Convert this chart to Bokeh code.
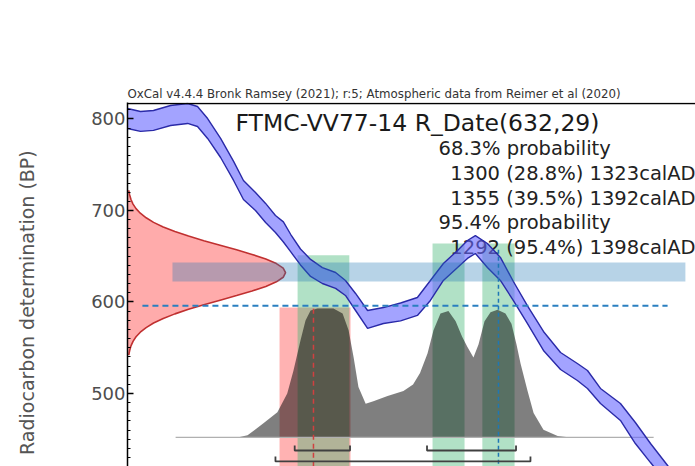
import math
from bokeh.plotting import figure
from bokeh.models import Range1d, Span, FixedTicker, ColumnDataSource
from bokeh.core.properties import value
from bokeh.embed import file_html
from bokeh.resources import INLINE

# ---------------- data ----------------
header = "OxCal v4.4.4 Bronk Ramsey (2021); r:5; Atmospheric data from Reimer et al (2020)"
sample_title = "FTMC-VV77-14 R_Date(632,29)"
summary_lines = ["68.3% probability",
                 "1300 (28.8%) 1323calAD",
                 "1355 (39.5%) 1392calAD",
                 "95.4% probability",
                 "1292 (95.4%) 1398calAD"]
summary_indent = [0, 1, 1, 0, 1]
y_label = "Radiocarbon determination (BP)"
y_ticks = [500, 600, 700, 800]

# calibration curve: calendar year (AD), mean BP, half-width (BP)
cal_year = [1230.5, 1235.9, 1241.3, 1248.4, 1255.5, 1259.6, 1263.8, 1269.2, 1274.6, 1278.7,
            1283.7, 1287.9, 1292.0, 1295.3, 1298.3, 1302.4, 1306.6, 1311.5, 1317.0, 1321.1,
            1325.3, 1330.3, 1336.9, 1344.0, 1351.0, 1356.4, 1361.8, 1367.7, 1371.8, 1375.1,
            1380.1, 1385.5, 1390.9, 1396.7, 1403.4, 1410.5, 1417.5, 1421.7, 1427.1, 1435.4,
            1441.6, 1447.9, 1455.0, 1462.4, 1468.0]
cal_bp = [800.5, 797.3, 798.4, 803.8, 806.0, 802.7, 789.6, 768.3, 743.2, 722.4,
          709.8, 697.3, 685.2, 676.5, 664.5, 649.2, 637.2, 628.9, 623.5, 615.3,
          600.0, 580.9, 585.2, 589.1, 595.1, 612.6, 632.8, 647.0, 657.4, 662.8,
          650.8, 636.1, 612.0, 586.3, 557.4, 535.5, 523.5, 515.3, 497.3, 479.8,
          456.8, 434.9, 411.5, 384.2, 375.0]
cal_err = [10.9, 10.9, 10.9, 10.9, 10.9, 10.9, 10.9, 10.4, 10.4, 10.4,
           9.8, 10.4, 9.3, 11.0, 9.5, 8.7, 9.3, 8.7, 8.7, 8.2,
           9.3, 9.8, 8.7, 9.8, 9.8, 10.9, 9.3, 9.3, 9.8, 9.8,
           13.1, 12.6, 10.4, 9.8, 10.4, 9.3, 9.3, 9.8, 8.2, 9.3,
           11.5, 10.4, 9.8, 9.8, 9.8]

# radiocarbon measurement distribution (BP, relative probability)
rdate_bp = [542, 547, 552, 557, 562, 567, 572, 577, 582, 587, 592, 597, 602, 607, 612, 617, 622,
            627, 632, 637, 642, 647, 652, 657, 662, 667, 672, 677, 682, 687, 692, 697, 702, 707,
            712, 717, 722]
rdate_p = [0.008, 0.0136, 0.022, 0.035, 0.054, 0.081, 0.118, 0.165, 0.226, 0.300, 0.386, 0.483,
           0.586, 0.690, 0.788, 0.875, 0.942, 0.985, 1.0, 0.985, 0.942, 0.875, 0.788, 0.690,
           0.586, 0.483, 0.386, 0.300, 0.226, 0.165, 0.118, 0.081, 0.054, 0.035, 0.022, 0.0136,
           0.008]

# calibrated distribution (calendar year AD, relative probability)
hist_year = [1250.5, 1276.2, 1280.4, 1287.0, 1292.8, 1296.9, 1299.5, 1302.4, 1304.5, 1306.6,
             1309.5, 1316.1, 1319.9, 1322.4, 1324.5, 1326.5, 1329.5, 1332.7, 1338.6, 1345.2,
             1349.2, 1352.1, 1355.2, 1357.7, 1360.6, 1363.9, 1366.9, 1369.6, 1371.8, 1374.3,
             1376.4, 1378.9, 1381.4, 1384.3, 1387.6, 1390.1, 1392.2, 1393.9, 1396.8, 1399.3,
             1403.4, 1409.3, 1414.6, 1449.2]
hist_p = [0.0, 0.0, 0.016, 0.109, 0.194, 0.341, 0.519, 0.752, 0.907, 0.984,
          1.0, 1.0, 0.96, 0.83, 0.62, 0.39, 0.26, 0.28, 0.32, 0.36,
          0.41, 0.50, 0.65, 0.83, 0.96, 0.98, 0.90, 0.78, 0.70, 0.62,
          0.72, 0.90, 0.97, 0.99, 0.96, 0.88, 0.72, 0.57, 0.36, 0.19,
          0.06, 0.01, 0.0, 0.0]

# highlighted bands
red_band_left = [1293.7]
red_band_right = [1323.2]
red_band_top = [594.0]
green_band_left = [1301.2, 1357.3, 1378.0]
green_band_right = [1322.7, 1370.6, 1391.4]
green_band_top = [651.0, 664.0, 664.0]
meas_band_bp = [622.4, 643.2]
meas_band_years = [1249.2, 1462.4]
ref_line_bp = 596.0
ref_line_years = [1236.7, 1455.0]
red_marker_year = 1307.8
red_marker_top = 594.0
blue_marker_year = 1384.7
blue_marker_top = 658.0

# probability ranges (brackets)
ranges_683 = [(1300, 1323), (1355, 1392)]
ranges_954 = [(1292, 1398)]

# ---------------- figure ----------------
X0, X1 = 1230.5, 1466.6
Y0, Y1 = 420.2, 818.0
p = figure(width=695, height=466, output_backend="svg", toolbar_location=None,
           x_range=Range1d(X0, X1), y_range=Range1d(Y0, Y1),
           min_border_left=127, min_border_right=0, min_border_top=102, min_border_bottom=0)
p.xaxis.visible = False
p.xgrid.visible = False
p.ygrid.visible = False
p.outline_line_color = None
p.background_fill_color = "white"
p.border_fill_color = "white"

p.title.text = header
p.title.text_font = "DejaVu Sans"
p.title.text_font_size = "11.8px"
p.title.text_font_style = "normal"
p.title.text_color = "#333333"
p.title.align = "left"
p.title.standoff = 3
p.title.offset = 0

yax = p.yaxis[0]
yax.ticker = FixedTicker(ticks=y_ticks, minor_ticks=list(range(420, 820, 10)))
yax.major_label_text_font = "DejaVu Sans"
yax.major_label_text_font_size = "18px"
yax.major_label_text_color = "#4d4d4d"
yax.major_label_standoff = 2
yax.major_tick_in = 6
yax.major_tick_out = 0
yax.minor_tick_in = 3
yax.minor_tick_out = 0
yax.axis_line_width = 1.5
yax.major_tick_line_width = 1.5
yax.minor_tick_line_width = 1
yax.axis_line_color = "black"
# trailing no-break spaces shift the centred label down to where the reference has it
yax.axis_label = y_label + "\u00a0" * 6
yax.axis_label_text_font = "DejaVu Sans"
yax.axis_label_text_font_size = "19px"
yax.axis_label_text_font_style = "normal"
yax.axis_label_text_color = "#555555"
yax.axis_label_standoff = 50

# measurement distribution on the y axis
red_w = 65.7
p.harea(y=rdate_bp, x1=[X0] * len(rdate_bp), x2=[X0 + v * red_w for v in rdate_p],
        fill_color="#ff0000", fill_alpha=0.33)
p.line(x=[X0 + v * red_w for v in rdate_p], y=rdate_bp, line_color="#c03030", line_width=1.6)

# vertical bands
p.quad(left=red_band_left, right=red_band_right, bottom=[Y0 - 20] * len(red_band_left),
       top=red_band_top, fill_color="#ff0000", fill_alpha=0.3, line_color=None)
p.quad(left=green_band_left, right=green_band_right, bottom=[Y0 - 20] * len(green_band_left),
       top=green_band_top, fill_color="#3cb371", fill_alpha=0.4, line_color=None)

# calibrated distribution
h_base, h_scale = 452.0, 141.0
p.varea(x=hist_year, y1=[h_base] * len(hist_year), y2=[h_base + v * h_scale for v in hist_p],
        fill_color="black", fill_alpha=0.5)
p.line(x=[hist_year[0], hist_year[-1]], y=[h_base, h_base], line_color="#b0b0b0", line_width=1.2)

# texts (glyphs, so the curve is drawn over them)
tx_src = ColumnDataSource(dict(
    x=[1359.8 + 4.9 * i for i in summary_indent],
    y=[767.2 - 26.8 * k for k in range(len(summary_lines))],
    t=summary_lines))
p.text(x="x", y="y", text="t", source=tx_src, text_font=value("DejaVu Sans"),
       text_font_size=value("19.5px"), text_color="#222222", text_baseline="alphabetic",
       text_align="left")
p.text(x=[1275.4], y=[795.1], text=[sample_title], text_font=value("DejaVu Sans"),
       text_font_size=value("23.5px"), text_color="#1a1a1a", text_baseline="alphabetic",
       text_align="left")

# calibration curve
lo = [m - e for m, e in zip(cal_bp, cal_err)]
hi = [m + e for m, e in zip(cal_bp, cal_err)]
p.varea(x=cal_year, y1=lo, y2=hi, fill_color="#6666ff", fill_alpha=0.6)
p.line(x=cal_year, y=lo, line_color="#2a2aa8", line_width=1.4)
p.line(x=cal_year, y=hi, line_color="#2a2aa8", line_width=1.4)

# measurement band
p.quad(left=[meas_band_years[0]], right=[meas_band_years[1]], bottom=[meas_band_bp[0]],
       top=[meas_band_bp[1]], fill_color="#1f77b4", fill_alpha=0.32, line_color=None)

# dashed reference lines
p.line(x=ref_line_years, y=[ref_line_bp, ref_line_bp], line_color="#2a7fc0", line_width=2,
       line_dash="6 4")
p.line(x=[red_marker_year, red_marker_year], y=[Y0 - 20, red_marker_top], line_color="#d04040",
       line_width=1.5, line_dash="5 4")
p.line(x=[blue_marker_year, blue_marker_year], y=[Y0 - 20, blue_marker_top], line_color="#1f77b4",
       line_width=1.5, line_dash="4 3")

# range brackets
tick_h = 5.5
for ranges, yb in ((ranges_683, 437.7), (ranges_954, 425.7)):
    xs = [[a, a, b, b] for a, b in ranges]
    ys = [[yb + tick_h, yb, yb, yb + tick_h] for _ in ranges]
    p.multi_line(xs=xs, ys=ys, line_color="#404040", line_width=1.8)

# top frame line
p.add_layout(Span(location=817.0, dimension="width", line_color="black", line_width=1.5))

open("out.html", "w").write(file_html(p, INLINE))
